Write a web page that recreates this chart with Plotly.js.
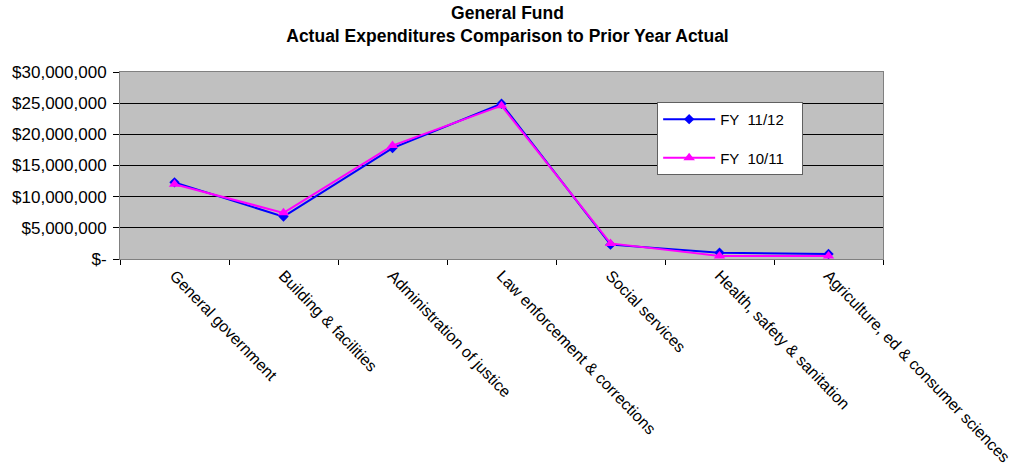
<!DOCTYPE html>
<html><head><meta charset="utf-8">
<script src="https://cdn.plot.ly/plotly-3.0.1.min.js"></script>
<style>body{margin:0;background:#fff}#c{width:1015px;height:472px}</style>
</head><body><div id="c"></div>
<script>
const categories = ["General government","Building & facilities","Administration of justice","Law enforcement & corrections","Social services","Health, safety & sanitation","Agriculture, ed & consumer sciences"];
const fy1112 = [12300000, 6800000, 17800000, 24900000, 2300000, 1000000, 800000];
const fy1011 = [12000000, 7400000, 18200000, 24600000, 2500000, 500000, 500000];
const yTickVals = [0, 5000000, 10000000, 15000000, 20000000, 25000000, 30000000];
const yTickText = ["$-", "$5,000,000", "$10,000,000", "$15,000,000", "$20,000,000", "$25,000,000", "$30,000,000"];

const data = [
  {x: categories, y: fy1112, name: "FY  11/12   ", type: "scatter", mode: "lines+markers",
   line: {color: "#0000ff", width: 2}, marker: {symbol: "diamond", size: 8, color: "#0000ff"}, legendgroup: "a"},
  {x: categories, y: fy1011, name: "FY  10/11   ", type: "scatter", mode: "lines+markers",
   line: {color: "#ff00ff", width: 2}, marker: {symbol: "triangle-up", size: 10, color: "#ff00ff"}, legendgroup: "b"}
];
const layout = {
  width: 1015, height: 472,
  margin: {l: 120, r: 132, t: 72, b: 213},
  paper_bgcolor: "#ffffff", plot_bgcolor: "#c0c0c0",
  font: {family: "Liberation Sans, Arial, sans-serif", size: 14, color: "#000"},
  title: {text: "<b>General Fund<br>Actual Expenditures Comparison to Prior Year Actual</b>", x: 0.5, xanchor: "center", y: 0.96, yanchor: "middle", font: {size: 17.5}},
  xaxis: {type: "category", tickangle: 46, ticks: "outside", tickson: "boundaries", ticklen: 5, tickcolor: "#000",
          showline: true, linecolor: "#808080", mirror: true, showgrid: false, tickfont: {size: 16}, range: [-0.5, 6.5]},
  yaxis: {range: [0, 30000000], tickvals: yTickVals, ticktext: yTickText, ticks: "outside", ticklen: 6, tickcolor: "#000",
          showline: true, linecolor: "#808080", mirror: true, gridcolor: "#000", gridwidth: 1, zeroline: false, tickfont: {size: 17},
          ticklabelstandoff: 3},
  showlegend: true,
  legend: {x: 0.704, y: 0.84, xanchor: "left", yanchor: "top", bgcolor: "#ffffff", bordercolor: "#606060", borderwidth: 1,
           font: {size: 15}, tracegroupgap: 16, itemwidth: 52}
};
Plotly.newPlot("c", data, layout, {displayModeBar: false});
</script></body></html>
